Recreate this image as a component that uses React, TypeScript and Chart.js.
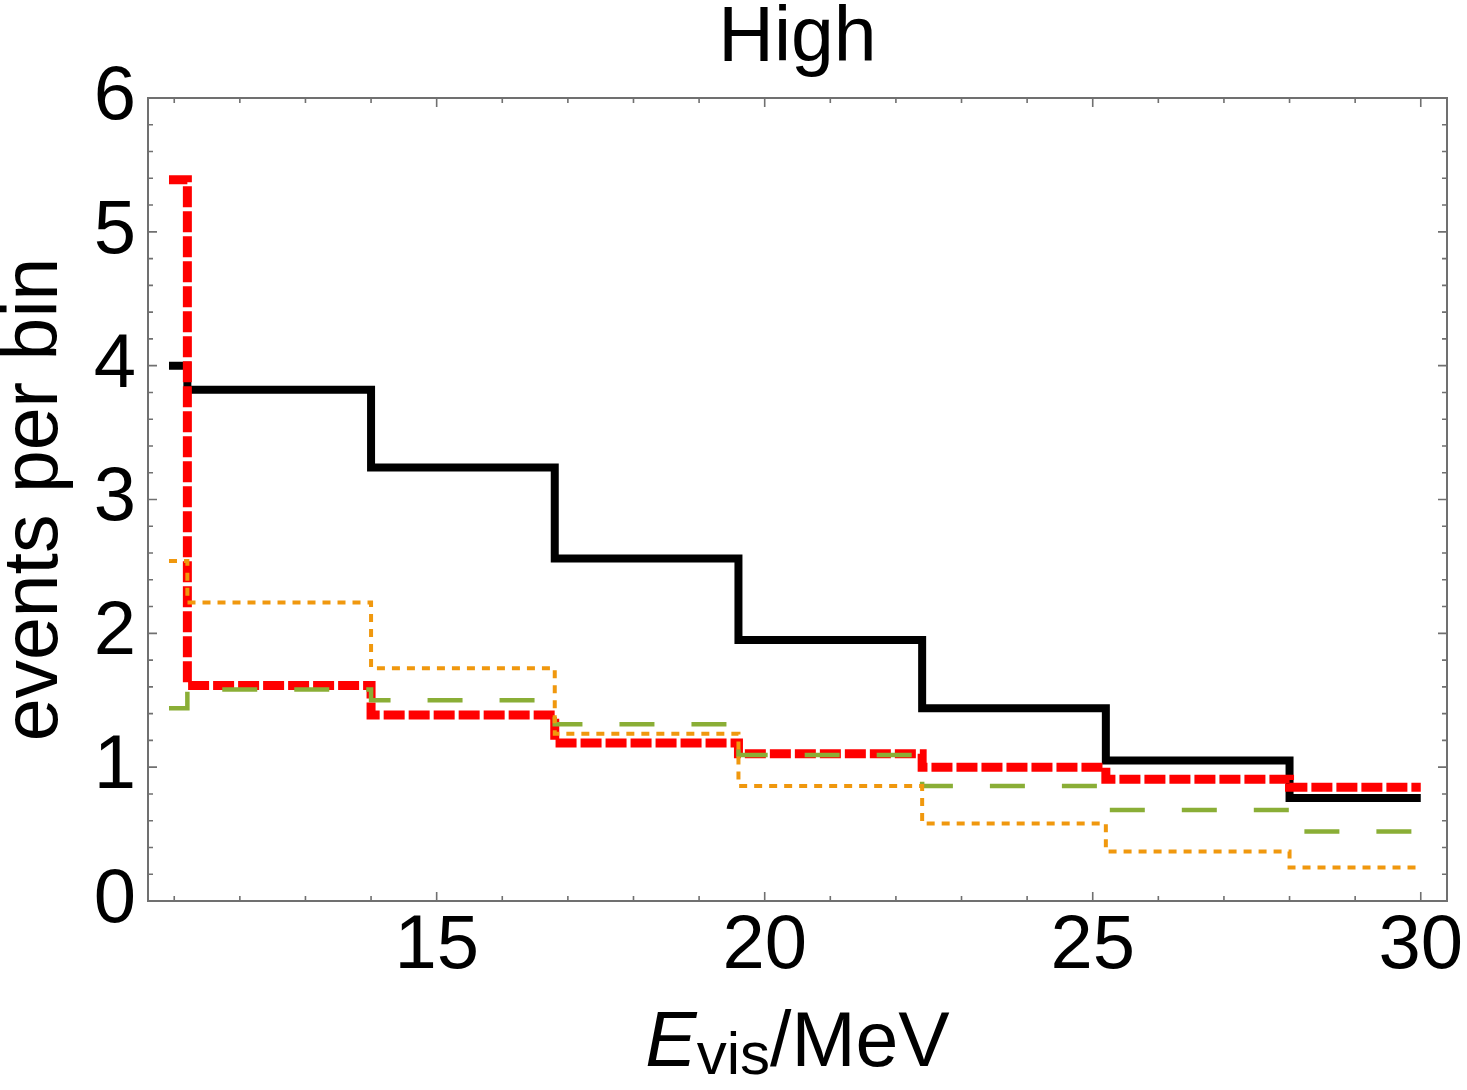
import React, { useEffect, useRef } from "react";
import { Chart, registerables } from "chart.js";

Chart.register(...registerables);

// ---- data ----
const binEdges = [10.92, 11.2, 14.0, 16.8, 19.6, 22.4, 25.2, 28.0, 30.0];
const blackCounts = [4.0, 3.82, 3.24, 2.56, 1.95, 1.44, 1.05, 0.77];
const redCounts = [5.39, 1.61, 1.39, 1.18, 1.1, 1.0, 0.91, 0.85];
const greenCounts = [1.44, 1.58, 1.5, 1.32, 1.09, 0.86, 0.68, 0.52];
const orangeCounts = [2.54, 2.23, 1.74, 1.25, 0.86, 0.58, 0.37, 0.25];

const xTickLabels = [15, 20, 25, 30];
const yTickLabels = [0, 1, 2, 3, 4, 5, 6];

const titleText = "High";
const yTitleText = "events per bin";

const FONT = '"Liberation Sans", Arial, Helvetica, sans-serif';

function stepPoints(values: number[]) {
  // bin i spans [edge i, edge i+1]; the closing edge repeats the final value
  return binEdges.map((e, i) => ({ x: e, y: values[Math.min(i, values.length - 1)] }));
}

const framePlugin = {
  id: "mmaFrame",
  afterDatasetsDraw(chart: any) {
    const { ctx, chartArea, scales } = chart;
    const { left, right, top, bottom } = chartArea;
    const x = scales.x;
    const y = scales.y;
    ctx.save();
    ctx.strokeStyle = "#707070";
    ctx.lineWidth = 2;
    ctx.strokeRect(left, top, right - left, bottom - top);
    ctx.lineWidth = 1.6;
    ctx.beginPath();
    for (let v = Math.ceil(x.min); v <= Math.floor(x.max); v++) {
      const px = x.getPixelForValue(v);
      const len = xTickLabels.includes(v) ? 9 : 5;
      ctx.moveTo(px, bottom);
      ctx.lineTo(px, bottom - len);
      ctx.moveTo(px, top);
      ctx.lineTo(px, top + len);
    }
    for (let k = 0; k <= 30; k++) {
      const v = k / 5;
      const py = y.getPixelForValue(v);
      const len = k % 5 === 0 ? 9 : 5;
      ctx.moveTo(left, py);
      ctx.lineTo(left + len, py);
      ctx.moveTo(right, py);
      ctx.lineTo(right - len, py);
    }
    ctx.stroke();
    ctx.restore();
  },
  afterDraw(chart: any) {
    const { ctx, chartArea } = chart;
    const cx = (chartArea.left + chartArea.right) / 2;
    ctx.save();
    ctx.fillStyle = "#000";
    ctx.textBaseline = "alphabetic";

    // title
    ctx.textAlign = "center";
    ctx.font = `77px ${FONT}`;
    ctx.fillText(titleText, cx, 61);

    // x-axis title with subscript
    ctx.textAlign = "left";
    const base = 1066;
    ctx.font = `italic 77px ${FONT}`;
    const wE = ctx.measureText("E").width;
    ctx.font = `60px ${FONT}`;
    const wS = ctx.measureText("vis").width;
    ctx.font = `77px ${FONT}`;
    const wM = ctx.measureText("/MeV").width;
    let sx = cx - (wE + wS + wM) / 2;
    ctx.font = `italic 77px ${FONT}`;
    ctx.fillText("E", sx, base);
    sx += wE;
    ctx.font = `60px ${FONT}`;
    ctx.fillText("vis", sx, base + 8);
    sx += wS;
    ctx.font = `77px ${FONT}`;
    ctx.fillText("/MeV", sx, base);
    ctx.restore();
  },
};

export default function App() {
  const ref = useRef<HTMLCanvasElement | null>(null);

  useEffect(() => {
    if (!ref.current) return;
    const common = { stepped: "before", pointRadius: 0, fill: false, borderCapStyle: "butt", borderJoinStyle: "miter" };
    const chart = new Chart(ref.current, {
      type: "line",
      data: {
        datasets: [
          {
            ...common,
            label: "orange",
            data: stepPoints(orangeCounts),
            borderColor: "#f0980e",
            borderWidth: 4,
            borderDash: [8, 7],
            order: 1,
          },
          {
            ...common,
            label: "green",
            data: stepPoints(greenCounts),
            borderColor: "#8aae36",
            borderWidth: 4.5,
            borderDash: [35, 37],
            order: 2,
          },
          {
            ...common,
            label: "red",
            data: stepPoints(redCounts),
            borderColor: "#ff0000",
            borderWidth: 9,
            borderDash: [21, 4],
            order: 3,
          },
          {
            ...common,
            label: "black",
            data: stepPoints(blackCounts),
            borderColor: "#000000",
            borderWidth: 8,
            order: 4,
          },
        ] as any,
      },
      options: {
        animation: false,
        responsive: false,
        devicePixelRatio: 1,
        layout: { padding: { left: 0, right: 20, top: 98, bottom: 0 } },
        plugins: {
          legend: { display: false },
          tooltip: { enabled: false },
          title: { display: false },
        },
        scales: {
          x: {
            type: "linear",
            min: 10.6,
            max: 30.4,
            grid: { display: false, drawTicks: false },
            border: { display: false },
            ticks: {
              color: "#000",
              font: { family: FONT, size: 76 },
              padding: 0,
              maxRotation: 0,
              autoSkip: false,
            },
            afterBuildTicks: (s: any) => {
              s.ticks = xTickLabels.map((v) => ({ value: v }));
            },
            afterFit: (s: any) => {
              s.height = 189;
              s.paddingLeft = 0;
              s.paddingRight = 0;
            },
          },
          y: {
            type: "linear",
            min: 0,
            max: 6,
            grid: { display: false, drawTicks: false },
            border: { display: false },
            ticks: {
              color: "#000",
              font: { family: FONT, size: 76 },
              padding: 12,
              stepSize: 1,
            },
            afterBuildTicks: (s: any) => {
              s.ticks = yTickLabels.map((v) => ({ value: v }));
            },
            title: {
              display: true,
              text: yTitleText,
              color: "#000",
              font: { family: FONT, size: 77, lineHeight: 0.9 },
              padding: { top: 1, bottom: 0 },
            },
            afterFit: (s: any) => {
              s.width = 148;
              s.paddingTop = 0;
              s.paddingBottom = 0;
            },
          },
        },
      } as any,
      plugins: [framePlugin],
    });
    return () => chart.destroy();
  }, []);

  return (
    <div style={{ position: "absolute", left: 0, top: 0, width: 1467, height: 1090, background: "#fff" }}>
      <canvas ref={ref} width={1467} height={1090} style={{ display: "block", width: 1467, height: 1090 }} />
    </div>
  );
}
